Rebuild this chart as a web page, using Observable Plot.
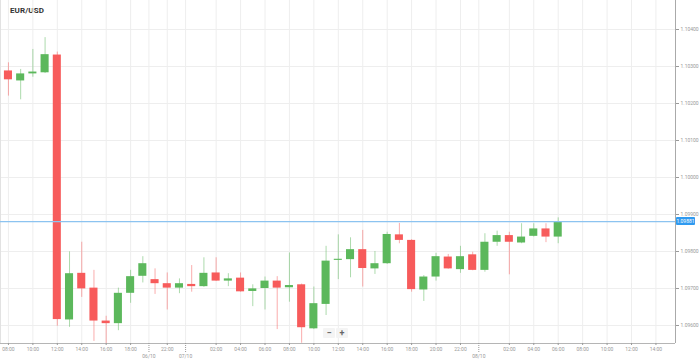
<!DOCTYPE html>
<html><head><meta charset="utf-8">
<script src="https://cdn.jsdelivr.net/npm/d3@7"></script>
<script src="https://cdn.jsdelivr.net/npm/@observablehq/plot@0.6"></script>
<style>
html,body{margin:0;padding:0;background:#fff;}
#wrap{position:relative;width:699px;height:362px;font-family:Roboto,"Noto Sans",sans-serif;overflow:hidden;}
#title{position:absolute;left:10px;top:6px;font-size:8px;font-weight:bold;color:#333;letter-spacing:0.1px;}
#zoom{position:absolute;left:323px;top:328px;display:flex;gap:1px;}
#zoom div{width:12px;height:10px;line-height:10px;text-align:center;font-size:9px;font-weight:bold;color:#666;background:#f4f4f4;border-radius:1px;}
#tag{position:absolute;left:676px;width:19px;height:8px;line-height:8px;background:#2f9af0;color:#fff;font-size:5px;text-align:center;border-radius:1px;}
</style></head><body>
<div id="wrap"><div id="title">EUR/USD</div></div>
<script>
const times = [
 "04/10 08:00","04/10 09:00","04/10 10:00","04/10 11:00","04/10 12:00","04/10 13:00","04/10 14:00","04/10 15:00","04/10 16:00","04/10 17:00","04/10 18:00","04/10 19:00",
 "06/10 21:00","06/10 22:00","06/10 23:00",
 "07/10 00:00","07/10 01:00","07/10 02:00","07/10 03:00","07/10 04:00","07/10 05:00","07/10 06:00","07/10 07:00","07/10 08:00","07/10 09:00","07/10 10:00","07/10 11:00",
 "07/10 12:00","07/10 13:00","07/10 14:00","07/10 15:00","07/10 16:00","07/10 17:00","07/10 18:00","07/10 19:00","07/10 20:00","07/10 21:00","07/10 22:00","07/10 23:00",
 "08/10 00:00","08/10 01:00","08/10 02:00","08/10 03:00","08/10 04:00","08/10 05:00","08/10 06:00"];
const opens = [1.10288,1.10261,1.10280,1.10283,1.10331,1.09615,1.09741,1.09701,1.09612,1.09605,1.09687,1.09733,1.09724,1.09713,1.09701,1.09711,1.09705,1.09742,1.09720,1.09728,1.09692,1.09700,1.09720,1.09702,1.09710,1.09591,1.09657,1.09776,1.09778,1.09805,1.09753,1.09767,1.09845,1.09830,1.09696,1.09731,1.09785,1.09751,1.09791,1.09749,1.09825,1.09843,1.09823,1.09841,1.09861,1.09839];
const highs = [1.10310,1.10292,1.10346,1.10378,1.10339,1.09799,1.09825,1.09749,1.09625,1.09701,1.09749,1.09786,1.09753,1.09742,1.09726,1.09762,1.09783,1.09783,1.09740,1.09742,1.09710,1.09731,1.09732,1.09796,1.09712,1.09704,1.09814,1.09845,1.09837,1.09857,1.09800,1.09852,1.09876,1.09832,1.09735,1.09795,1.09792,1.09814,1.09798,1.09848,1.09855,1.09852,1.09875,1.09875,1.09875,1.09891];
const lows = [1.10220,1.10210,1.10271,1.10281,1.09598,1.09595,1.09676,1.09557,1.09550,1.09586,1.09660,1.09715,1.09684,1.09642,1.09686,1.09690,1.09703,1.09719,1.09705,1.09690,1.09651,1.09642,1.09589,1.09663,1.09552,1.09589,1.09627,1.09724,1.09729,1.09704,1.09738,1.09765,1.09821,1.09690,1.09665,1.09720,1.09752,1.09741,1.09748,1.09744,1.09814,1.09737,1.09821,1.09839,1.09824,1.09821];
const closes = [1.10264,1.10280,1.10285,1.10332,1.09616,1.09740,1.09699,1.09612,1.09605,1.09687,1.09732,1.09767,1.09713,1.09701,1.09713,1.09705,1.09741,1.09720,1.09726,1.09691,1.09699,1.09720,1.09701,1.09708,1.09594,1.09659,1.09774,1.09779,1.09805,1.09754,1.09767,1.09846,1.09830,1.09697,1.09731,1.09786,1.09753,1.09786,1.09749,1.09825,1.09843,1.09825,1.09839,1.09861,1.09839,1.09881];
const lastPrice = 1.09881;

const yTicks = [1.096,1.097,1.098,1.099,1.100,1.101,1.102,1.103,1.104];
const timeTickIdx = [0,2,4,6,8,10,13,17,19,21,23,25,27,29,31,33,35,37,41,43,45,47,49,51,53];
const timeTickLabels = ["08:00","10:00","12:00","14:00","16:00","18:00","22:00","02:00","04:00","06:00","08:00","10:00","12:00","14:00","16:00","18:00","20:00","22:00","02:00","04:00","06:00","08:00","10:00","12:00","14:00"];
const dateTickIdx = [11.5,14.5,38.5];
const dateTickLabels = ["06/10","07/10","08/10"];

const xDomain = [-0.65, 54.6];
const yDomain = [1.0955135, 1.1047838];

const candles = times.map((t, i) => ({i, t, open: opens[i], high: highs[i], low: lows[i], close: closes[i], up: closes[i] >= opens[i]}));
const timeLabel = new Map(timeTickIdx.map((d, k) => [d, timeTickLabels[k]]));
const dateLabel = new Map(dateTickIdx.map((d, k) => [d, dateTickLabels[k]]));
const gridIdx = timeTickIdx.concat(dateTickIdx);
const GREEN = "#5cb85c", RED = "#f75b5b";
const col = d => d.up ? GREEN : RED;

const chart = Plot.plot({
  width: 699, height: 362,
  marginLeft: 0, marginRight: 24, marginTop: 0, marginBottom: 19,
  x: {domain: xDomain, axis: null},
  y: {domain: yDomain, axis: null},
  style: {fontFamily: "Roboto, 'Noto Sans', sans-serif", fontSize: "5px", background: "transparent", color: "#999"},
  marks: [
    Plot.ruleY(yTicks, {stroke: "#eeeeee"}),
    Plot.ruleX(gridIdx, {stroke: "#eeeeee"}),
    Plot.ruleX([xDomain[0]], {stroke: "#e2e2e2"}),
    Plot.ruleX(candles, {x: "i", y1: "low", y2: "high", stroke: col, strokeOpacity: 0.5}),
    Plot.rect(candles, {x1: d => d.i - 0.33, x2: d => d.i + 0.33, y1: "open", y2: "close", fill: col}),
    Plot.ruleY([lastPrice], {stroke: "#8cc3f0", strokeWidth: 1.2}),
    Plot.ruleX([xDomain[1]], {stroke: "#aaaaaa"}),
    Plot.ruleY([yDomain[0]], {stroke: "#b5b5b5"}),
    Plot.axisY(yTicks, {anchor: "right", tickSize: 3, tickPadding: 2, tickFormat: d3.format(".5f"), fontSize: 5, label: null, color: "#999"}),
    Plot.axisX(timeTickIdx, {anchor: "bottom", tickSize: 2, tickPadding: 2, tickFormat: d => timeLabel.get(d), fontSize: 5, label: null, color: "#999"}),
    Plot.axisX(dateTickIdx, {anchor: "bottom", tickSize: 9, tickPadding: 2, tickFormat: d => dateLabel.get(d), fontSize: 5, label: null, color: "#999", strokeDasharray: "1,1"})
  ]
});
const wrap = document.getElementById("wrap");
wrap.appendChild(chart);
chart.style.position = "absolute"; chart.style.left = "0"; chart.style.top = "0";

const tag = document.createElement("div");
tag.id = "tag";
tag.textContent = d3.format(".5f")(lastPrice);
tag.style.top = (chart.scale("y").apply(lastPrice) - 4) + "px";
wrap.appendChild(tag);

const zoom = document.createElement("div");
zoom.id = "zoom";
zoom.innerHTML = "<div>\u2212</div><div>+</div>";
wrap.appendChild(zoom);
</script>
</body></html>
